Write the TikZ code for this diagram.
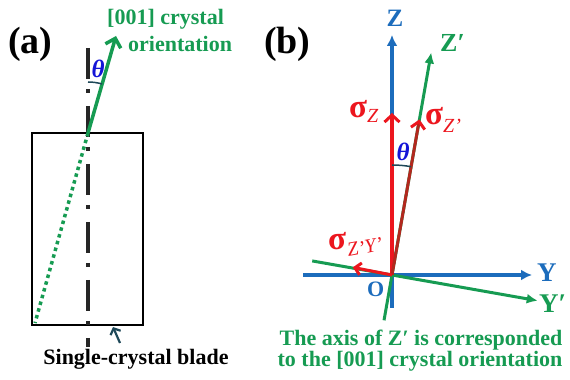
\documentclass[tikz,border=0pt]{standalone}
\usepackage{fontspec}
\usepackage{graphicx}
\setmainfont{Liberation Serif}
\usetikzlibrary{arrows.meta}
\definecolor{cgreen}{RGB}{22,155,82}
\definecolor{cblue}{RGB}{28,108,188}
\definecolor{cred}{RGB}{236,22,30}
\definecolor{cdred}{RGB}{178,40,30}
\definecolor{ctheta}{RGB}{20,20,215}
\definecolor{cteal}{RGB}{30,72,88}
\begin{document}
\begin{tikzpicture}[x=1pt,y=1pt,
  txt/.style={inner sep=0pt, font=\bfseries},
  bluaxis/.style={cblue, line width=3.5pt, -{Latex[length=11pt,width=11pt]}},
  grnaxis/.style={cgreen, line width=3pt, -{Latex[length=11pt,width=10pt]}},
  barb/.style={-{Straight Barb[length=7pt,width=15pt,line width=3pt]}},
  anglearc/.style={cteal, line width=1.5pt},
  sig/.style={txt, cred, anchor=base west, font=\fontsize{33}{33}\selectfont\bfseries}]
\useasboundingbox (0,0) rectangle (570,380);

% ---------- panel (a) ----------
\node[txt, anchor=base west, font=\fontsize{38}{40}\selectfont\bfseries] (la) at (8,326) {(a)};
\coordinate (rbl) at (32,55);
\coordinate (rtr) at (143,247);
\draw[line width=2.5pt] (rbl) rectangle (rtr);
\coordinate (ctop) at (88,332);
\coordinate (cbot) at (88,33);
\draw[black!85, line width=3.5pt, dash pattern=on 31pt off 10pt on 4pt off 13pt] (ctop) -- (cbot);
\coordinate (A0) at (88,247);
\coordinate (Atip) at (116,344);
\coordinate (Adot) at (35,57);
\draw[cgreen, line width=3.5pt, dash pattern=on 3.5pt off 3.5pt] (A0) -- (Adot);
\draw[cgreen, line width=3.5pt, -{Straight Barb[length=8pt,width=16pt,line width=3.5pt]}] (A0) -- (Atip);
\draw[anglearc] ([shift={(90:51)}]A0) arc[start angle=90, end angle=74, radius=51];
\node[txt, ctheta, font=\fontsize{25}{25}\selectfont\bfseries\itshape] (tha) at (98,311) {θ};
\node[txt, cgreen, anchor=base west, font=\fontsize{22}{24}\selectfont\bfseries] (ori1) at (107,355) {[001] crystal};
\node[txt, cgreen, anchor=base west, font=\fontsize{22}{24}\selectfont\bfseries] (ori2) at (128,328) {orientation};
\node[txt, anchor=base, font=\fontsize{22}{24}\selectfont\bfseries] (blade) at (136,15) {Single-crystal blade};
\coordinate (bt) at (120,37);
\coordinate (bh) at (113,53);
\draw[cteal, line width=2.2pt, -{Straight Barb[length=5pt,width=11pt,line width=2.2pt]}] (bt) -- (bh);

% ---------- panel (b) ----------
\node[txt, anchor=base west, font=\fontsize{38}{40}\selectfont\bfseries] (lb) at (264,326) {(b)};
\coordinate (O) at (392,105);
\coordinate (Zb) at (392,72);
\coordinate (Zt) at (392,345);
\coordinate (Yl) at (303,105);
\coordinate (Yr) at (532,105);
\draw[bluaxis] (Zb) -- (Zt);
\draw[bluaxis] (Yl) -- (Yr);
\draw[grnaxis] ([shift={(260:46)}]O) -- ([shift={(80:226)}]O);
\draw[grnaxis] ([shift={(170:81)}]O) -- ([shift={(-10:148)}]O);
% stresses
\draw[cred, line width=4.5pt, barb] (O) -- (392,267);
\draw[cdred, line width=3pt, -{Straight Barb[length=7pt,width=14pt,line width=3pt,color=cred]}] (O) -- ([shift={(80:158)}]O);
\draw[cred, line width=3pt, -{Straight Barb[length=6pt,width=12pt,line width=3pt]}] (O) -- ([shift={(169:40)}]O);
\draw[anglearc] ([shift={(90:110)}]O) arc[start angle=90, end angle=80, radius=110];
\node[txt, ctheta, font=\fontsize{25}{25}\selectfont\bfseries\itshape] (thb) at (403,228) {θ};
% labels
\node[txt, cblue, anchor=base, font=\fontsize{25}{26}\selectfont\bfseries] (lZ) at (395,353) {Z};
\node[txt, cgreen, anchor=base west, font=\fontsize{26}{26}\selectfont\bfseries] (lZp) at (440,328) {Z′};
\node[txt, cblue, anchor=base west, font=\fontsize{27}{28}\selectfont\bfseries] (lY) at (537,98) {Y};
\node[txt, cgreen, anchor=base west, font=\fontsize{27}{28}\selectfont\bfseries] (lYp) at (539,67) {Y′};
\node[txt, cblue, anchor=base west, font=\fontsize{22}{24}\selectfont\bfseries] (lO) at (367,83) {O};
\node[sig] (sZ) at (349,262)
  {σ\raisebox{-5pt}{\fontsize{20}{20}\selectfont\mdseries\itshape Z}};
\node[sig] (sZp) at (425,255)
  {σ\raisebox{-8pt}{\fontsize{20}{20}\selectfont\mdseries\itshape Z'}};
\node[sig] (sZY) at (328,130)
  {σ\raisebox{-7pt}{\rotatebox{10}{\fontsize{20}{20}\selectfont\mdseries\itshape Z'Y'}}};
\node[txt, cgreen, anchor=base, font=\fontsize{22}{24}\selectfont\bfseries] (note1) at (421,34) {The axis of Z′ is corresponded};
\node[txt, cgreen, anchor=base, font=\fontsize{22}{24}\selectfont\bfseries] (note2) at (420,13) {to the [001] crystal orientation};
\end{tikzpicture}
\end{document}
